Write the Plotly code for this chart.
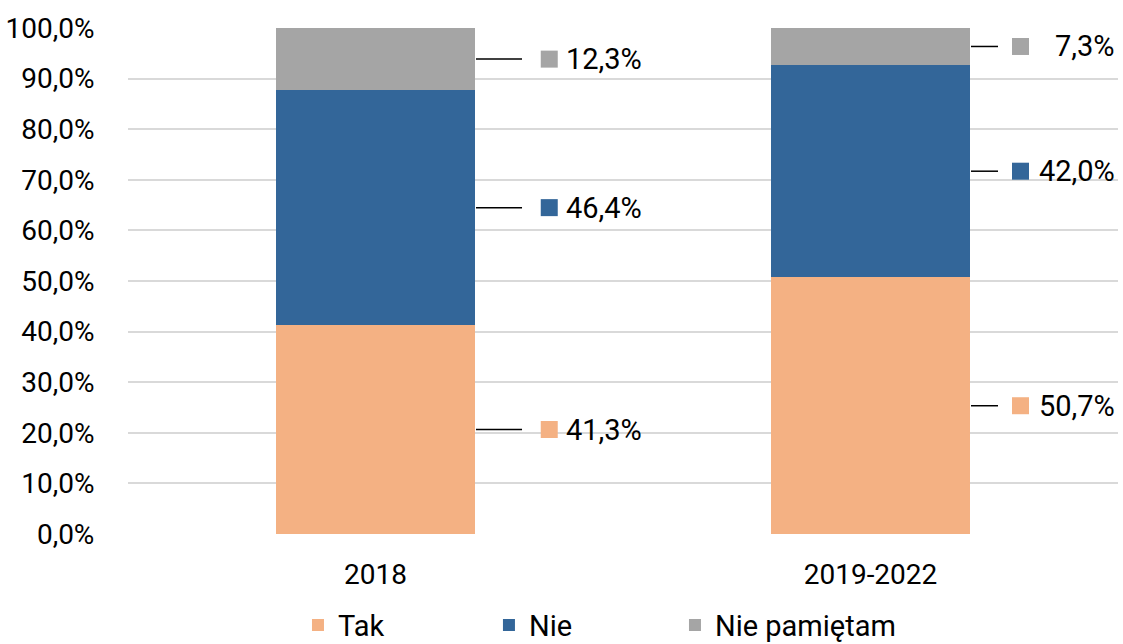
import plotly.graph_objects as go

categories = ["2018", "2019-2022"]
series_names = ["Tak", "Nie", "Nie pamiętam"]
tak = [41.3, 50.7]
nie = [46.4, 42.0]
nie_pam = [12.3, 7.3]
colors = ["#F4B183", "#336699", "#A5A5A5"]
y_ticks = [0, 10, 20, 30, 40, 50, 60, 70, 80, 90, 100]

FONT = "Roboto"
FS_TICK = 28
FS_LABEL = 29

values = [tak, nie, nie_pam]
legend_ids = ["legend", "legend2", "legend3"]
legend_x = [0.1717, 0.3646, 0.5525]

fig = go.Figure()
for name, vals, col, lid in zip(series_names, values, colors, legend_ids):
    fig.add_trace(go.Bar(x=categories, y=vals, name=name, marker_color=col,
                         marker_line_width=0, width=0.404, hoverinfo="skip", legend=lid))

# label layout (in category index units; 1 unit = 495 px)
leader = {0: (0.203, 0.296), 1: (1.203, 1.2576)}
marker_x = {0: 0.3510, 1: 1.3030}
text_x = {0: (0.3825, "left"), 1: (1.496, "right")}

shapes = []
annotations = []
for ci in range(len(categories)):
    base = 0.0
    for si, vals in enumerate(values):
        v = vals[ci]
        mid = base + v / 2
        base += v
        x0, x1 = leader[ci]
        shapes.append(dict(type="line", xref="x", yref="y", x0=x0, x1=x1, y0=mid, y1=mid,
                           line=dict(color="#000000", width=1.5)))
        shapes.append(dict(type="rect", xref="x", yref="y", xsizemode="pixel", ysizemode="pixel",
                           xanchor=marker_x[ci], yanchor=mid, x0=-8.5, x1=8.5, y0=-8.5, y1=8.5,
                           fillcolor=colors[si], line=dict(width=0)))
        tx, anc = text_x[ci]
        annotations.append(dict(x=tx, y=mid, xref="x", yref="y", xanchor=anc, yanchor="middle",
                                text=f"{v:.1f}".replace(".", ",") + "%", showarrow=False,
                                borderpad=0,
                                font=dict(family=FONT, size=FS_LABEL, color="#000000")))

legend_common = dict(orientation="h", xanchor="left", y=-0.18, yanchor="middle",
                     font=dict(family=FONT, size=FS_LABEL, color="#000000"),
                     bgcolor="rgba(0,0,0,0)")

fig.update_layout(
    barmode="stack",
    width=1123, height=644,
    margin=dict(l=128, r=5, t=28, b=110, autoexpand=False),
    paper_bgcolor="white", plot_bgcolor="white",
    font=dict(family=FONT, size=FS_TICK, color="#000000"),
    shapes=shapes, annotations=annotations,
    legend=dict(x=legend_x[0], **legend_common),
    legend2=dict(x=legend_x[1], **legend_common),
    legend3=dict(x=legend_x[2], **legend_common),
    showlegend=True,
)
fig.update_xaxes(type="category", range=[-0.5, 1.5], showgrid=False, showline=False,
                 ticks="outside", ticklen=15, tickcolor="rgba(0,0,0,0)",
                 tickfont=dict(family=FONT, size=FS_TICK, color="#000000"))
fig.update_yaxes(range=[0, 100], tickvals=y_ticks,
                 ticktext=[f"{t:.1f}".replace(".", ",") + "%" for t in y_ticks],
                 showgrid=True, gridcolor="#D9D9D9", gridwidth=2, zeroline=False,
                 showline=False, ticks="outside", ticklen=27, tickcolor="rgba(0,0,0,0)",
                 tickfont=dict(family=FONT, size=FS_TICK, color="#000000"))

fig.write_html("out.html", config={"displayModeBar": False},
               post_script="document.body.style.margin='0';document.body.style.padding='0';")
